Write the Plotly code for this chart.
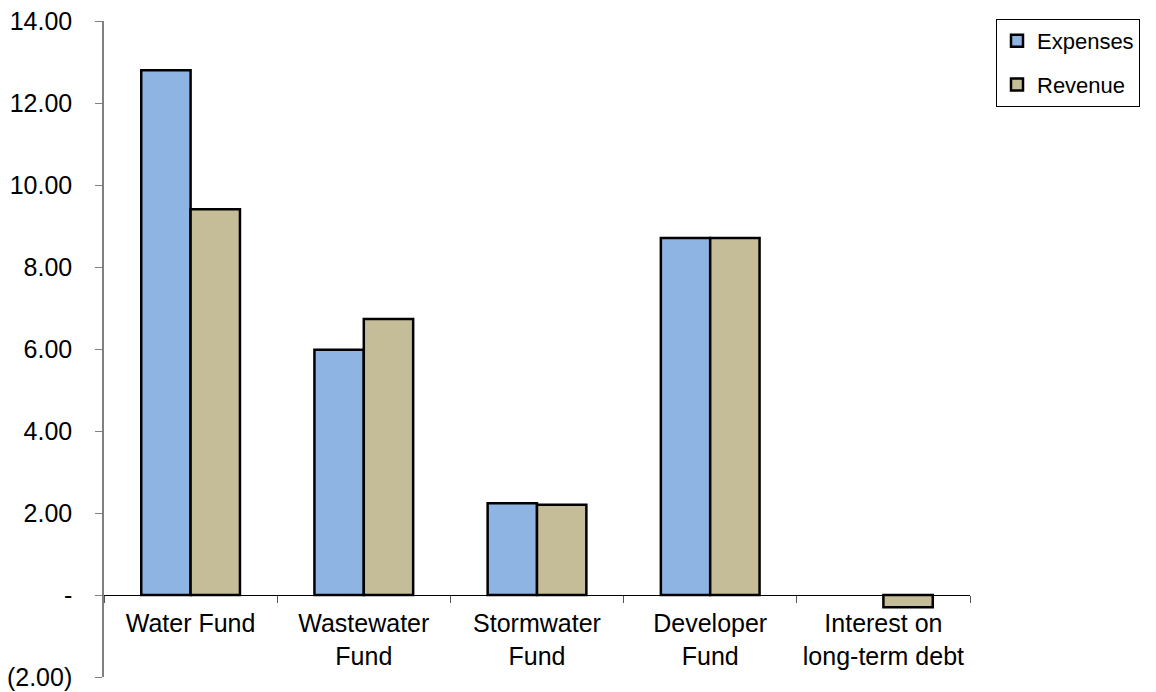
import plotly.graph_objects as go

categories = ["Water Fund", "Wastewater<br>Fund", "Stormwater<br>Fund", "Developer<br>Fund", "Interest on<br>long-term debt"]
expenses = [12.80, 5.98, 2.24, 8.71, None]
revenue = [9.41, 6.73, 2.20, 8.71, -0.30]
y_tickvals = [-2, 0, 2, 4, 6, 8, 10, 12, 14]
y_ticktext = ["(2.00)", "-", "2.00", "4.00", "6.00", "8.00", "10.00", "12.00", "14.00"]

FONT = "Liberation Sans, Arial, sans-serif"

fig = go.Figure()
fig.add_trace(go.Bar(name="Expenses", x=categories, y=expenses, legendgroup="a",
                     marker=dict(color="#8EB4E3", line=dict(color="black", width=2.5))))
fig.add_trace(go.Bar(name="Revenue", x=categories, y=revenue, legendgroup="b",
                     marker=dict(color="#C4BD97", line=dict(color="black", width=2.5))))

fig.update_layout(
    width=1156, height=692,
    margin=dict(l=104, r=186, t=21, b=15),
    paper_bgcolor="white", plot_bgcolor="white",
    barmode="group", bargap=0.43, bargroupgap=0,
    font=dict(family=FONT, size=25, color="black"),
    showlegend=True,
    legend=dict(xref="container", yref="container", x=996/1156, y=1-19/692,
                xanchor="left", yanchor="top", traceorder="grouped",
                bordercolor="black", borderwidth=1, bgcolor="white",
                font=dict(family=FONT, size=22, color="black"),
                itemwidth=30, tracegroupgap=12),
    xaxis=dict(anchor="free", position=2/16, showline=True, linecolor="black", linewidth=1,
               ticks="outside", tickson="boundaries", ticklen=7, tickcolor="#555",
               tickfont=dict(family=FONT, size=25, color="black"), showgrid=False,
               zeroline=False, automargin=False, ticklabelstandoff=6),
    yaxis=dict(range=[-2, 14], domain=[0, 1], tickvals=y_tickvals, ticktext=y_ticktext,
               showline=True, linecolor="#808080", linewidth=1.5, ticks="outside",
               ticklen=7, tickcolor="#808080", showgrid=False, zeroline=False,
               automargin=False,
               tickfont=dict(family=FONT, size=25, color="black"), ticklabelstandoff=18),
)

fig.write_html("out.html")
